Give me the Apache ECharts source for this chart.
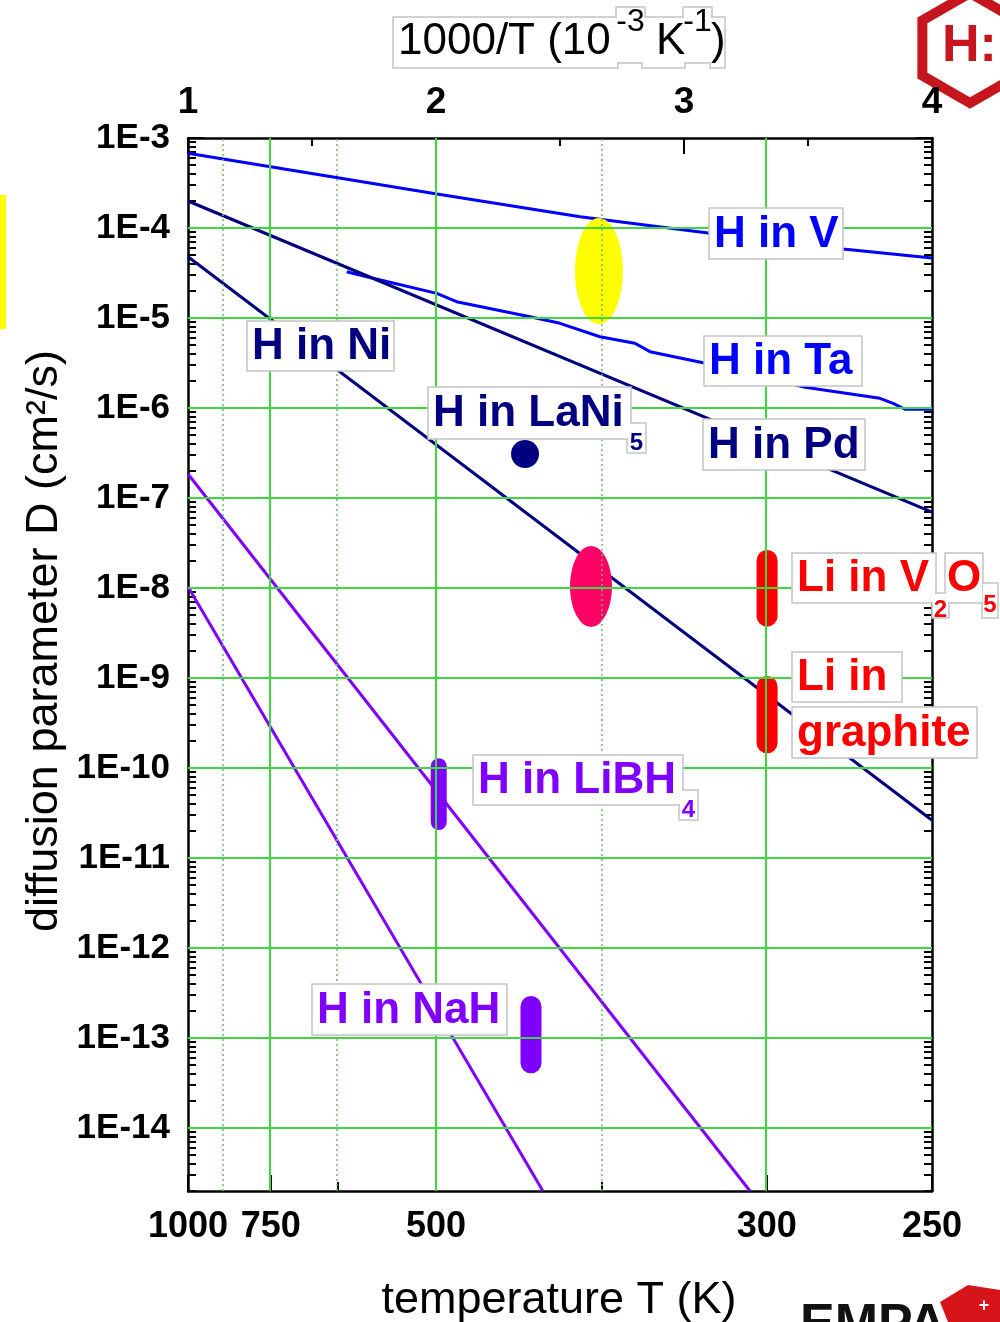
<!DOCTYPE html>
<html>
<head>
<meta charset="utf-8">
<title>Diffusion parameters</title>
<script src="https://cdn.jsdelivr.net/npm/echarts@6/dist/echarts.min.js"></script>
<style>
  html, body { margin: 0; padding: 0; background: #ffffff; }
  #chart { width: 1000px; height: 1322px; }
</style>
</head>
<body>
<div id="chart"></div>
<script>
const FONT = '"Liberation Sans", Arial, Helvetica, sans-serif';

// ---- axes -------------------------------------------------------------
// bottom axis: temperature T (K), placed at 1000/T
const TEMP_MAJOR = [1000, 750, 500, 300, 250];
const TEMP_MINOR = [624, 375];
const TEMP_DOTTED = [876, 624, 375];
const TEMP_GRID = [750, 500, 300];
// top axis: 1000/T (1e-3 K^-1)
const INV_T_MAJOR = [1, 2, 3, 4];
const INV_T_MINOR = [1.5, 2.5, 3.5];
// vertical axis: log10 of D (cm^2/s)
const DECADES = [-3, -4, -5, -6, -7, -8, -9, -10, -11, -12, -13, -14];
const LOG_D_MIN = -14.7;
const LOG_D_MAX = -3;

// ---- curves: [1000/T, log10 D] -----------------------------------------
const H_IN_V = [[1.000, -3.170], [2.004, -3.622], [2.581, -3.874], [3.097, -4.056], [3.641, -4.233], [4.000, -4.333]];
const H_IN_TA = [[1.640, -4.486], [1.721, -4.541], [2.003, -4.726], [2.083, -4.819], [2.379, -4.986], [2.500, -5.059],
                 [2.661, -5.208], [2.802, -5.281], [2.863, -5.374], [3.077, -5.497], [3.488, -5.770], [3.790, -5.892],
                 [3.843, -5.948], [3.891, -6.014], [4.000, -6.014]];
const H_IN_PD = [[1.000, -3.700], [4.000, -7.156]];
const H_IN_NI = [[1.000, -4.319], [4.000, -10.580]];
const H_IN_LIBH4 = [[1.000, -6.733], [3.266, -14.700]];
const H_IN_NAH = [[1.000, -7.986], [2.431, -14.700]];

// ---- ranges and points: [1000/T, log10 D upper, log10 D lower] ----------
const MG_RANGE = [[2.657, -3.889, -5.067]];
const PINK_RANGE = [[2.625, -7.533, -8.433]];
const LI_RANGES = [[3.335, -7.578, -8.430], [3.335, -8.978, -9.837]];
const LIBH4_RANGE = [[2.011, -9.892, -10.689]];
const NAH_RANGE = [[2.383, -12.533, -13.392]];
const LANI5_POINT = [[2.359, -6.511]];

const inv = t => 1000 / t;

const minorLog = [];
for (let n = -15; n <= -4; n++) {
  for (let k = 2; k <= 9; k++) {
    const v = n + Math.log10(k);
    if (v > LOG_D_MIN && v < LOG_D_MAX) minorLog.push(v);
  }
}

const BLACK = '#000000';
const GRID_GREEN = '#3fd63f';
const DOT_GREEN = '#6cbf6c';

function xAxisDef(position, ticks, len, label) {
  return {
    type: 'value', position, min: 1, max: 4,
    axisLine: { show: !!label, onZero: false, lineStyle: { color: BLACK, width: 2.5 } },
    axisTick: { show: true, inside: true, length: len, customValues: ticks, lineStyle: { color: BLACK, width: 2 } },
    axisLabel: label ? Object.assign({
      show: true, customValues: ticks, color: BLACK, fontFamily: FONT, fontWeight: 'bold', fontSize: 36
    }, label) : { show: false },
    splitLine: { show: false }
  };
}
function yAxisDef(position, ticks, len, label) {
  return {
    type: 'value', position, min: LOG_D_MIN, max: LOG_D_MAX,
    axisLine: { show: !!label, onZero: false, lineStyle: { color: BLACK, width: 2.5 } },
    axisTick: { show: true, inside: true, length: len, customValues: ticks, lineStyle: { color: BLACK, width: 2 } },
    axisLabel: label && label.show !== false ? Object.assign({
      show: true, customValues: ticks, color: BLACK, fontFamily: FONT, fontWeight: 'bold', fontSize: 35
    }, label) : { show: false },
    splitLine: { show: false }
  };
}

function ellipseRenderer(halfWidth, color) {
  return function (params, api) {
    const top = api.coord([api.value(0), api.value(1)]);
    const bottom = api.coord([api.value(0), api.value(2)]);
    return {
      type: 'circle',
      x: top[0], y: (top[1] + bottom[1]) / 2,
      scaleX: halfWidth, scaleY: (bottom[1] - top[1]) / 2,
      shape: { cx: 0, cy: 0, r: 1 },
      style: { fill: color }
    };
  };
}
function capsuleRenderer(halfWidth, color) {
  return function (params, api) {
    const top = api.coord([api.value(0), api.value(1)]);
    const bottom = api.coord([api.value(0), api.value(2)]);
    return {
      type: 'rect',
      shape: { x: top[0] - halfWidth, y: top[1], width: halfWidth * 2, height: bottom[1] - top[1], r: halfWidth },
      style: { fill: color }
    };
  };
}
function rangeSeries(name, data, renderItem) {
  return { name, type: 'custom', data, renderItem, encode: { x: 0, y: [1, 2] }, z: 4, silent: true };
}
function curve(name, data, color) {
  return {
    name, type: 'line', data, symbol: 'none', showSymbol: false, clip: true, z: 3, silent: true,
    lineStyle: { color, width: 3 }
  };
}

// ---- boxed labels -------------------------------------------------------
const NAVY = '#000080', BLUE = '#0000ff', RED = '#ff0000', PURPLE = '#8000ff';
const LABELS = [
  { color: BLUE, parts: [{ t: 'H in V', box: [709, 208, 843, 259] }] },
  { color: BLUE, parts: [{ t: 'H in Ta', box: [704, 336, 862, 386] }] },
  { color: NAVY, parts: [{ t: 'H in Pd', box: [703, 419, 865, 470] }] },
  { color: NAVY, parts: [{ t: 'H in Ni', box: [247, 321, 394, 371] }] },
  { color: NAVY, parts: [{ t: 'H in LaNi', box: [428, 387, 631, 439] }, { t: '5', box: [627, 423, 646, 453], sub: true }] },
  { color: RED, parts: [{ t: 'Li in V', box: [792, 553, 936, 603] }, { t: '2', box: [932, 593, 949, 618], sub: true },
                        { t: 'O', box: [945, 553, 983, 603], mid: true }, { t: '5', box: [982, 583, 998, 618], sub: true }] },
  { color: RED, parts: [{ t: 'Li in', box: [792, 652, 902, 702] }] },
  { color: RED, parts: [{ t: 'graphite', box: [792, 707, 977, 758] }] },
  { color: PURPLE, parts: [{ t: 'H in LiBH', box: [473, 755, 683, 805] }, { t: '4', box: [679, 790, 698, 820], sub: true }] },
  { color: PURPLE, parts: [{ t: 'H in NaH', box: [312, 984, 507, 1035] }] }
];
const AXIS_TITLE_TOP = [
  { t: '1000/T (10', box: [393, 17, 618, 68], size: 44, x: 398 },
  { t: '-3', box: [616, 7, 645, 63], size: 32, sup: true },
  { t: 'K', box: [642, 17, 685, 68], size: 44, x: 656 },
  { t: '-1', box: [683, 7, 712, 63], size: 32, sup: true },
  { t: ')', box: [710, 17, 725, 68], size: 44, x: 711 }
];

const graphics = [];
function addBoxes(parts) {
  // outlines first, then white fills inset so that shared borders disappear
  parts.forEach(p => {
    const [x0, y0, x1, y1] = p.box;
    graphics.push({ type: 'rect', z: 20, silent: true, shape: { x: x0, y: y0, width: x1 - x0, height: y1 - y0 },
                    style: { fill: '#ffffff', stroke: '#c4c4c4', lineWidth: 1.5 } });
  });
  parts.forEach(p => {
    const [x0, y0, x1, y1] = p.box;
    graphics.push({ type: 'rect', z: 21, silent: true, shape: { x: x0 + 1, y: y0 + 1, width: x1 - x0 - 2, height: y1 - y0 - 2 },
                    style: { fill: '#ffffff' } });
  });
}
LABELS.forEach(lab => {
  addBoxes(lab.parts);
  lab.parts.forEach(p => {
    const [x0, y0, x1, y1] = p.box;
    const centred = p.sub || p.mid;
    graphics.push({
      type: 'text', z: 22, silent: true,
      style: {
        text: p.t,
        x: centred ? (x0 + x1) / 2 : x0 + 5,
        y: p.sub ? (y0 + y1) / 2 + 5 : (y0 + y1) / 2 + 1,
        fill: lab.color,
        font: 'bold ' + (p.sub ? 24 : 44) + 'px ' + FONT,
        textAlign: centred ? 'center' : 'left', align: centred ? 'center' : 'left',
        textVerticalAlign: 'middle', verticalAlign: 'middle'
      }
    });
  });
});
addBoxes(AXIS_TITLE_TOP);
AXIS_TITLE_TOP.forEach(p => {
  const [x0, y0, x1, y1] = p.box;
  graphics.push({
    type: 'text', z: 22, silent: true,
    style: {
      text: p.t,
      x: p.sup ? (x0 + x1) / 2 : p.x,
      y: p.sup ? 22 : 42,
      fill: BLACK,
      font: p.size + 'px ' + FONT,
      textAlign: p.sup ? 'center' : 'left', align: p.sup ? 'center' : 'left',
      textVerticalAlign: 'middle', verticalAlign: 'middle'
    }
  });
});

// axis titles
graphics.push({
  type: 'text', z: 22, silent: true, x: 45, y: 641, rotation: Math.PI / 2,
  style: { text: 'diffusion parameter D (cm\u00b2/s)', x: 0, y: 0, fill: BLACK, font: '45px ' + FONT,
           textAlign: 'center', align: 'center', textVerticalAlign: 'middle', verticalAlign: 'middle' }
});
graphics.push({
  type: 'text', z: 22, silent: true,
  style: { text: 'temperature T (K)', x: 559, y: 1301, fill: BLACK, font: '45px ' + FONT,
           textAlign: 'center', align: 'center', textVerticalAlign: 'middle', verticalAlign: 'middle' }
});

// slide decorations: side marker and logos (kept beneath the axis labels)
graphics.push({ type: 'rect', z: 22, silent: true, shape: { x: 0, y: 195, width: 6, height: 134 }, style: { fill: '#ffff00' } });
(function () {
  const cx = 970, cy = 48, r = 55, pts = [];
  for (let i = 0; i < 6; i++) {
    const a = -Math.PI / 2 + i * Math.PI / 3;
    pts.push([cx + r * Math.cos(a), cy + r * Math.sin(a)]);
  }
  graphics.push({ type: 'polygon', z: -2, silent: true, shape: { points: pts },
                  style: { fill: '#ffffff', stroke: '#c4161c', lineWidth: 10 } });
  graphics.push({ type: 'text', z: -1, silent: true,
                  style: { text: 'H:', x: 942, y: 47, fill: '#c4161c', font: 'bold 52px ' + FONT,
                           textAlign: 'left', align: 'left', textVerticalAlign: 'middle', verticalAlign: 'middle' } });
  graphics.push({ type: 'text', z: 23, silent: true,
                  style: { text: 'EMPA', x: 800, y: 1300, fill: '#111111', font: 'bold 52px ' + FONT,
                           textAlign: 'left', align: 'left', textVerticalAlign: 'top', verticalAlign: 'top' } });
  graphics.push({ type: 'polygon', z: 23, silent: true,
                  shape: { points: [[940, 1302], [968, 1285], [1000, 1290], [1000, 1322], [948, 1322]] },
                  style: { fill: '#d7141a' } });
  graphics.push({ type: 'text', z: 24, silent: true,
                  style: { text: '+', x: 984, y: 1306, fill: '#ffffff', font: 'bold 18px ' + FONT,
                           textAlign: 'center', align: 'center', textVerticalAlign: 'middle', verticalAlign: 'middle' } });
})();

// ---- grid lines drawn as mark lines -------------------------------------
const gridMarks = [];
DECADES.filter(v => v !== LOG_D_MAX).forEach(v =>
  gridMarks.push({ yAxis: v, lineStyle: { color: GRID_GREEN, width: 2, type: 'solid' } }));
TEMP_GRID.forEach(t =>
  gridMarks.push({ xAxis: inv(t), lineStyle: { color: GRID_GREEN, width: 2, type: 'solid' } }));
TEMP_DOTTED.forEach(t =>
  gridMarks.push({ xAxis: inv(t), lineStyle: { color: DOT_GREEN, width: 1.5, type: [2, 3] } }));

const option = {
  animation: false,
  backgroundColor: '#ffffff',
  grid: { left: 188, right: 68, top: 138, bottom: 131, containLabel: false, outerBoundsMode: 'none' },
  xAxis: [
    xAxisDef('bottom', TEMP_MAJOR.map(inv), 16, { formatter: v => String(Math.round(1000 / v)), margin: 18 }),
    xAxisDef('bottom', TEMP_MINOR.map(inv), 9, null),
    xAxisDef('top', INV_T_MAJOR, 16, { formatter: v => String(Math.round(v)), margin: 17, fontSize: 37 }),
    xAxisDef('top', INV_T_MINOR, 8, null)
  ],
  yAxis: [
    yAxisDef('left', DECADES, 16, { formatter: v => '1E' + Math.round(v), margin: 18 }),
    yAxisDef('left', minorLog, 8, null),
    yAxisDef('right', DECADES, 16, { show: false }),
    yAxisDef('right', minorLog, 8, null)
  ],
  series: [
    {
      name: 'grid', type: 'line', data: [[1, LOG_D_MAX]], symbol: 'none', silent: true, z: 1,
      lineStyle: { opacity: 0 },
      markLine: { silent: true, symbol: 'none', label: { show: false }, animation: false, data: gridMarks }
    },
    curve('H in V', H_IN_V, BLUE),
    curve('H in Ta', H_IN_TA, BLUE),
    curve('H in Pd', H_IN_PD, NAVY),
    curve('H in Ni', H_IN_NI, NAVY),
    curve('H in LiBH4', H_IN_LIBH4, PURPLE),
    curve('H in NaH', H_IN_NAH, PURPLE),
    rangeSeries('Mg', MG_RANGE, ellipseRenderer(24, '#ffff00')),
    rangeSeries('pink', PINK_RANGE, ellipseRenderer(21, '#ff0066')),
    rangeSeries('Li', LI_RANGES, capsuleRenderer(10.5, RED)),
    rangeSeries('LiBH4', LIBH4_RANGE, capsuleRenderer(8, PURPLE)),
    rangeSeries('NaH', NAH_RANGE, capsuleRenderer(10.5, PURPLE)),
    { name: 'LaNi5', type: 'scatter', data: LANI5_POINT, symbol: 'circle', symbolSize: 28, z: 4, silent: true,
      itemStyle: { color: NAVY, opacity: 1 } }
  ],
  graphic: { elements: graphics }
};

// the right-hand frame edge comes from the right major-tick axis
option.yAxis[2].axisLine.show = true;

const chart = echarts.init(document.getElementById('chart'), null, { renderer: 'canvas', width: 1000, height: 1322 });
chart.setOption(option);
</script>
</body>
</html>
